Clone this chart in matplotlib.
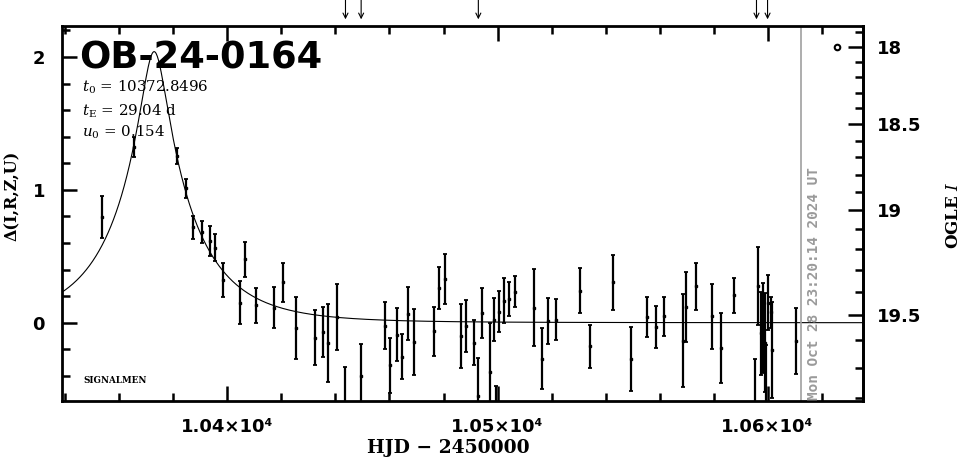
import numpy as np
import matplotlib
matplotlib.use("Agg")
import matplotlib.pyplot as plt
from matplotlib.ticker import MultipleLocator, FixedLocator, FuncFormatter

plt.rcParams["mathtext.fontset"] = "dejavuserif"

# ---------- event / fit parameters ----------
event = "OB-24-0164"
t0, tE, u0 = 10372.8496, 29.04, 0.154
m_base, f_src = 19.532, 0.537      # OGLE I baseline and source fraction
now_hjd = 10612.47
now_txt = "Mon Oct 28 23:20:14 2024 UT"

# ---------- photometry (HJD-2450000, delta, error) ----------
hjd = [10353.4, 10365.5, 10381.4, 10384.5, 10387.4, 10390.5, 10393.4, 10395.5,
       10398.4, 10404.5, 10406.6, 10410.5, 10417.3, 10420.4, 10425.4, 10432.5,
       10435.4, 10437.4, 10440.5, 10443.6, 10449.4, 10458.4, 10460.2, 10462.6,
       10464.5, 10466.7, 10468.9, 10476.5, 10478.5, 10480.5, 10486.3, 10488.5,
       10491.2, 10492.8, 10494.4, 10497.4, 10498.6, 10499.6, 10500.6, 10502.4,
       10504.3, 10506.4, 10513.6, 10516.5, 10518.7, 10521.6, 10530.6, 10534.4,
       10542.6, 10549.4, 10555.5, 10558.7, 10561.5, 10568.6, 10569.7, 10573.5,
       10579.6, 10582.7, 10587.6, 10595.4, 10596.5, 10597.4, 10598.3, 10598.9,
       10599.6, 10600.2, 10601.1, 10601.7, 10610.6]
delta = [0.794, 1.323, 1.255, 1.011, 0.719, 0.681, 0.615, 0.563,
         0.325, 0.152, 0.476, 0.130, 0.114, 0.303, -0.040, -0.113,
         -0.070, -0.151, 0.041, -0.610, -0.401, -0.021, -0.322, -0.089,
         -0.255, 0.069, -0.145, -0.066, 0.261, 0.329, -0.100, -0.025,
         -0.149, -0.552, 0.073, -0.371, 0.024, -0.750, 0.084, 0.167,
         0.178, 0.235, 0.114, -0.270, 0.013, 0.024, 0.242, -0.179,
         0.303, -0.273, 0.043, -0.032, 0.047, -0.134, 0.118, 0.273,
         0.047, -0.191, 0.205, -0.650, 0.276, -0.081, -0.040, -0.149,
         -0.680, 0.152, 0.077, -0.206, -0.138]
err = [0.157, 0.075, 0.060, 0.072, 0.088, 0.081, 0.113, 0.102,
       0.128, 0.162, 0.132, 0.132, 0.154, 0.147, 0.233, 0.205,
       0.188, 0.292, 0.250, 0.280, 0.241, 0.177, 0.207, 0.200,
       0.169, 0.200, 0.248, 0.184, 0.158, 0.188, 0.241, 0.196,
       0.169, 0.286, 0.188, 0.369, 0.162, 0.270, 0.154, 0.169,
       0.128, 0.117, 0.290, 0.230, 0.173, 0.154, 0.169, 0.162,
       0.207, 0.241, 0.151, 0.158, 0.147, 0.350, 0.264, 0.177,
       0.245, 0.264, 0.132, 0.380, 0.294, 0.313, 0.339, 0.373,
       0.510, 0.207, 0.117, 0.361, 0.248]

# arrows drawn above the frame
arrow_hjd = [10443.7, 10449.5, 10492.9, 10595.9, 10600.0]


def paczynski(t):
    u = np.sqrt(u0**2 + ((t - t0) / tE) ** 2)
    return (u**2 + 2) / (u * np.sqrt(u**2 + 4))


def d2m(d):
    a = 10 ** (0.4 * np.asarray(d, float))
    return m_base - 2.5 * np.log10(np.maximum(1 + f_src * (a - 1), 1e-6))


def m2d(m):
    f = 10 ** (-0.4 * (np.asarray(m, float) - m_base))
    return 2.5 * np.log10(np.maximum(1 + (f - 1) / f_src, 1e-6))


fig = plt.figure(figsize=(9.65, 4.59), dpi=100)
ax = fig.add_axes([0.0639, 0.1253, 0.8300, 0.8187])
xlo, xhi = 10338.6, 10635.2
ax.set_xlim(xlo, xhi)
ax.set_ylim(-0.593, 2.236)

tt = np.linspace(xlo, xhi, 1500)
ax.plot(tt, 2.5 * np.log10(paczynski(tt)), color="black", lw=0.8)

ax.errorbar(hjd, delta, yerr=err, fmt="s", ms=2, color="black",
            ecolor="black", elinewidth=1.6, capsize=1.6, capthick=1.3)

ax.axvline(now_hjd, color="#a0a0a0", lw=1.2)
ax.text(now_hjd + 2.0, -0.585, now_txt, rotation=90, ha="left", va="bottom",
        color="#9a9a9a", fontsize=10.4, fontweight="bold", family="DejaVu Sans Mono")

for a in arrow_hjd:
    ax.annotate("", xy=(a, 1.017), xytext=(a, 1.07),
                xycoords=ax.get_xaxis_transform(), textcoords=ax.get_xaxis_transform(),
                arrowprops=dict(arrowstyle="->", color="black", lw=0.8,
                                shrinkA=0, shrinkB=0, mutation_scale=9),
                annotation_clip=False)

ax.plot([0.968], [0.943], "o", mfc="white", mec="black", ms=4, mew=1.5,
        transform=ax.transAxes, clip_on=False)

# labels inside frame
ax.text(0.022, 0.887, event, transform=ax.transAxes, fontsize=26.5,
        fontweight="bold", family="DejaVu Sans", va="baseline")
ax.text(0.025, 0.835, r"$t_0$ = 10372.8496", transform=ax.transAxes,
        fontsize=10.8, family="DejaVu Serif", va="center")
ax.text(0.025, 0.772, r"$t_{\rm E}$ = 29.04 d", transform=ax.transAxes,
        fontsize=10.8, family="DejaVu Serif", va="center")
ax.text(0.025, 0.717, r"$u_0$ = 0.154", transform=ax.transAxes,
        fontsize=10.8, family="DejaVu Serif", va="center")
ax.text(0.027, 0.057, "SIGNALMEN", transform=ax.transAxes, fontsize=6.3,
        fontweight="bold", family="DejaVu Serif", va="center")

# axes styling
for s in ax.spines.values():
    s.set_linewidth(2.0)
ax.xaxis.set_major_locator(MultipleLocator(100))
ax.xaxis.set_minor_locator(MultipleLocator(20))
ax.xaxis.set_major_formatter(FuncFormatter(lambda v, p: f"{v/1e4:.2f}×10⁴"))
ax.yaxis.set_major_locator(MultipleLocator(1))
ax.yaxis.set_minor_locator(MultipleLocator(0.2))
ax.yaxis.set_major_formatter(FuncFormatter(lambda v, p: f"{v:g}"))
ax.tick_params(which="both", direction="in", top=True, right=False, width=1.8)
ax.tick_params(which="major", length=11)
ax.tick_params(which="minor", length=5.5)
ax.tick_params(axis="x", labelsize=13, pad=12)
ax.tick_params(axis="y", labelsize=13, pad=12)
for lab in ax.get_xticklabels() + ax.get_yticklabels():
    lab.set_fontweight("bold")

sec = ax.secondary_yaxis("right", functions=(d2m, m2d))
sec.spines["right"].set_linewidth(2.0)
sec.yaxis.set_major_locator(FixedLocator([18, 18.5, 19, 19.5]))
sec.yaxis.set_minor_locator(FixedLocator(np.round(np.arange(17.9, 19.85, 0.1), 1)))
sec.yaxis.set_major_formatter(FuncFormatter(lambda v, p: f"{v:g}"))
sec.tick_params(which="both", direction="in", width=1.8)
sec.tick_params(which="major", length=11, labelsize=13, pad=10)
sec.tick_params(which="minor", length=5.5)
for lab in sec.get_yticklabels():
    lab.set_fontweight("bold")

fig.text(12 / 965, 1 - 196 / 459, "Δ(I,R,Z,U)", rotation=90, ha="center", va="center",
         fontsize=11.5, fontweight="bold", family="DejaVu Serif")
fig.text(953 / 965, 1 - 215 / 459, r"OGLE $\mathit{I}$", rotation=90, ha="center",
         va="center", fontsize=12, fontweight="bold", family="DejaVu Serif")
fig.text(448 / 965, 1 - 448 / 459, "HJD − 2450000", ha="center", va="center",
         fontsize=13.5, fontweight="bold", family="DejaVu Serif")

fig.savefig("out.png", dpi=100)
